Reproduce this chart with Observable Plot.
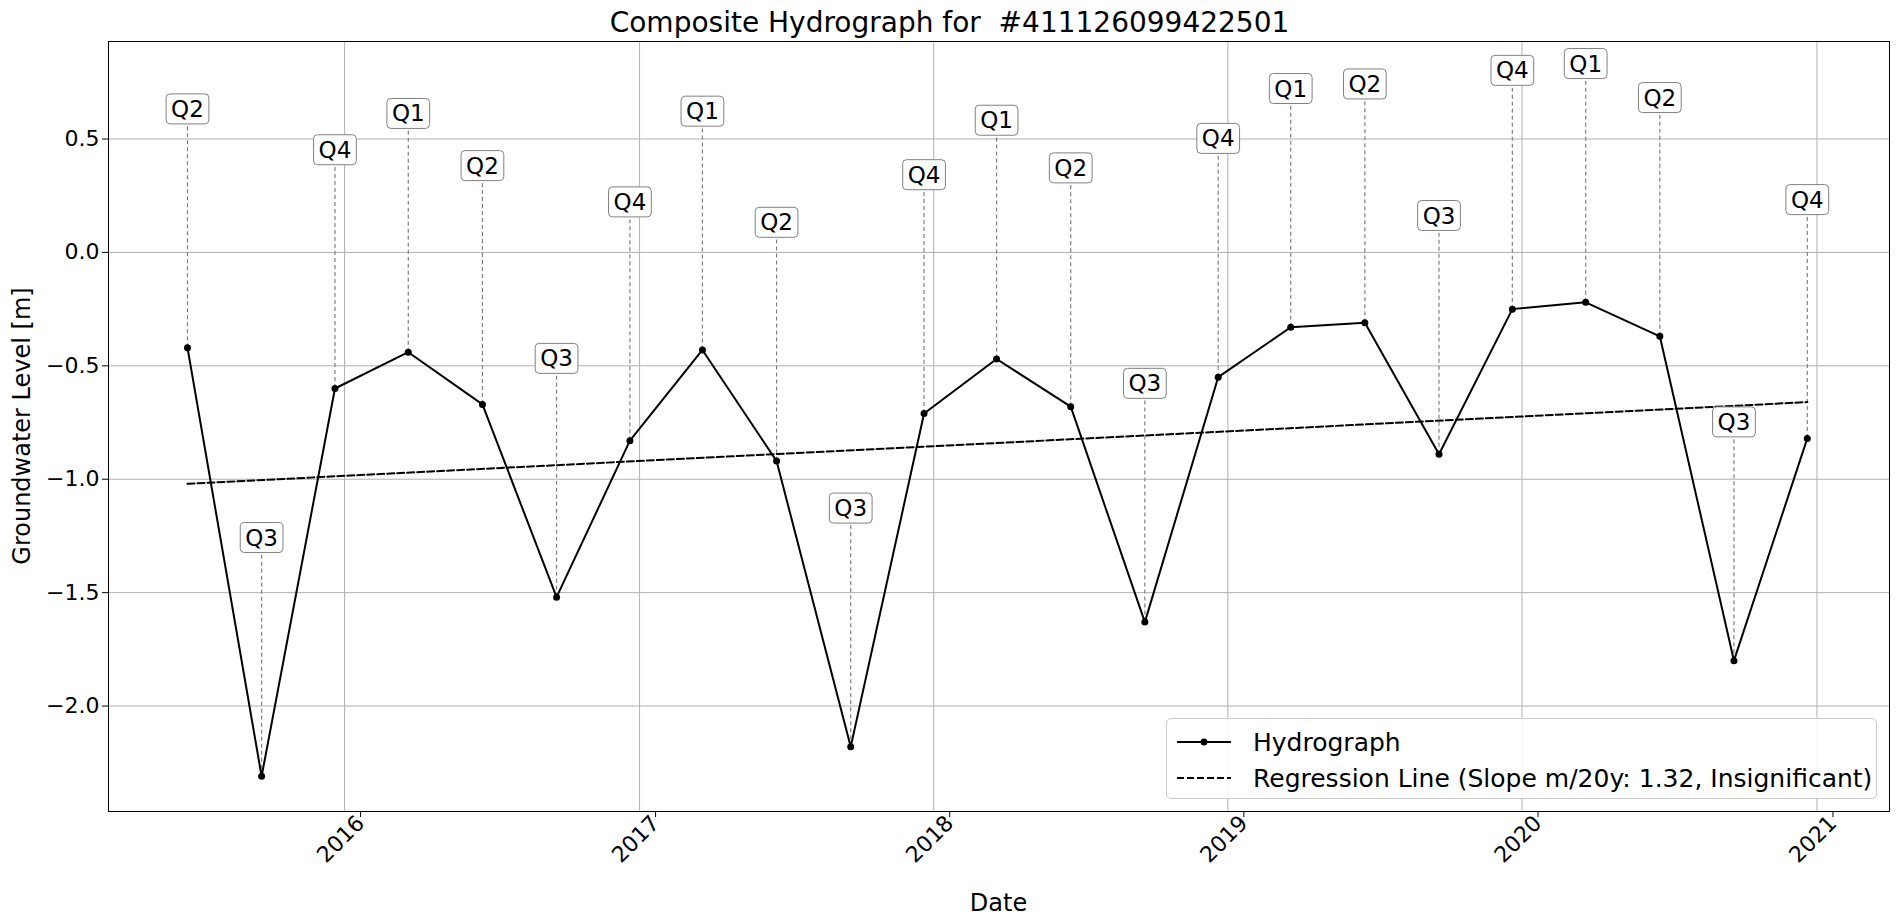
<!DOCTYPE html>
<html><head><meta charset="utf-8">
<script src="https://cdn.jsdelivr.net/npm/d3@7"></script>
<script src="https://cdn.jsdelivr.net/npm/@observablehq/plot@0.6"></script>
<style>
body{margin:0;font-family:"DejaVu Sans",sans-serif;background:#fff;}
#wrap{position:relative;width:1899px;height:920px;}
#title{height:41px;text-align:center;font-size:28px;line-height:46px;white-space:pre;}
#legend{position:absolute;left:1166px;top:718px;width:711px;height:81px;border:1px solid #ccc;border-radius:5px;background:rgba(255,255,255,0.85);font-size:25px;box-sizing:border-box;}
.row{position:absolute;left:8px;height:30px;display:flex;align-items:center;}
.row span{margin-left:20px;}
</style></head>
<body><div id="wrap"><div id="title">Composite Hydrograph for  #411126099422501</div><div id="chart"></div>
<div id="legend">
<div class="row" style="top:8px"><svg width="58" height="20"><line x1="2" x2="56" y1="10" y2="10" stroke="#000" stroke-width="2"/><circle cx="29" cy="10" r="3.5"/></svg><span>Hydrograph</span></div>
<div class="row" style="top:44px"><svg width="58" height="20"><line x1="2" x2="56" y1="10" y2="10" stroke="#000" stroke-width="2" stroke-dasharray="7,3"/></svg><span>Regression Line (Slope m/20y: 1.32, Insignificant)</span></div>
</div></div>
<script>
const dates = ["2015-06-20","2015-09-20","2015-12-20","2016-03-20","2016-06-20","2016-09-20","2016-12-20","2017-03-20","2017-06-20","2017-09-20","2017-12-20","2018-03-20","2018-06-20","2018-09-20","2018-12-20","2019-03-20","2019-06-20","2019-09-20","2019-12-20","2020-03-20","2020-06-20","2020-09-20","2020-12-20"];
const levels = [-0.42,-2.31,-0.60,-0.44,-0.67,-1.52,-0.83,-0.43,-0.92,-2.18,-0.71,-0.47,-0.68,-1.63,-0.55,-0.33,-0.31,-0.89,-0.25,-0.22,-0.37,-1.80,-0.82];
const quarters = ["Q2","Q3","Q4","Q1","Q2","Q3","Q4","Q1","Q2","Q3","Q4","Q1","Q2","Q3","Q4","Q1","Q2","Q3","Q4","Q1","Q2","Q3","Q4"];
const labelOffset = 1.05;
const regDates = ["2015-06-20","2020-12-20"];
const regValues = [-1.02,-0.66];
const yearTicks = [2016,2017,2018,2019,2020,2021];

const data = dates.map((d,i)=>({date:new Date(d),v:levels[i],q:quarters[i],ly:levels[i]+labelOffset}));
const reg = regDates.map((d,i)=>({date:new Date(d),v:regValues[i]}));
const xt = yearTicks.map(y=>new Date(y,0,1));

const chart = Plot.plot({
  width:1899, height:879,
  marginTop:0, marginBottom:109, marginLeft:108, marginRight:10,
  style:{fontSize:"20px",fontFamily:"DejaVu Sans"},
  x:{type:"utc",domain:[new Date("2015-03-14"),new Date("2021-04-01")],ticks:xt,tickFormat:d3.utcFormat("%Y"),tickRotate:-45,label:null},
  y:{domain:[-2.465,0.93],ticks:[0.5,0,-0.5,-1,-1.5,-2],tickFormat:d3.format(".1f"),label:null},
  marks:[
    Plot.gridX(xt,{stroke:"#b0b0b0",strokeOpacity:1}),
    Plot.gridY([0.5,0,-0.5,-1,-1.5,-2],{stroke:"#b0b0b0",strokeOpacity:1}),
    Plot.frame({stroke:"#000"}),
    Plot.axisX(xt,{tickFormat:d3.utcFormat("%Y"),tickRotate:-45,fontSize:22,tickSize:6,label:null,tickPadding:2,dx:16,dy:0}),
    Plot.axisY([0.5,0,-0.5,-1,-1.5,-2],{tickFormat:d3.format(".1f"),fontSize:22,tickSize:6,label:null}),
    Plot.ruleX(data,{x:"date",y1:"v",y2:"ly",stroke:"gray",strokeDasharray:"4,3",strokeWidth:1.2}),
    Plot.line(reg,{x:"date",y:"v",stroke:"#000",strokeWidth:2,strokeDasharray:"7,3"}),
    Plot.line(data,{x:"date",y:"v",stroke:"#000",strokeWidth:2}),
    Plot.dot(data,{x:"date",y:"v",r:3.5,fill:"#000"}),
    Plot.text(data,{x:"date",y:"ly",text:"q",fontSize:23,fill:"#000",className:"qlab"})
  ]
});
document.getElementById("chart").appendChild(chart);
chart.querySelectorAll("g.qlab text").forEach(t=>{
  const b=t.getBBox();
  const r=document.createElementNS("http://www.w3.org/2000/svg","rect");
  r.setAttribute("x",b.x-5);r.setAttribute("y",b.y-2);r.setAttribute("width",b.width+10);r.setAttribute("height",b.height+4);
  r.setAttribute("rx",4);r.setAttribute("fill","#fff");r.setAttribute("stroke","#808080");
  if(t.getAttribute("transform"))r.setAttribute("transform",t.getAttribute("transform"));
  t.parentNode.insertBefore(r,t);
});
const svg=d3.select(chart);
svg.append("text").attr("x",(108+1889)/2).attr("y",870).attr("text-anchor","middle").attr("font-size",24).text("Date");
svg.append("text").attr("transform","translate(30,"+(385)+") rotate(-90)").attr("text-anchor","middle").attr("font-size",24).text("Groundwater Level [m]");
</script></body></html>
